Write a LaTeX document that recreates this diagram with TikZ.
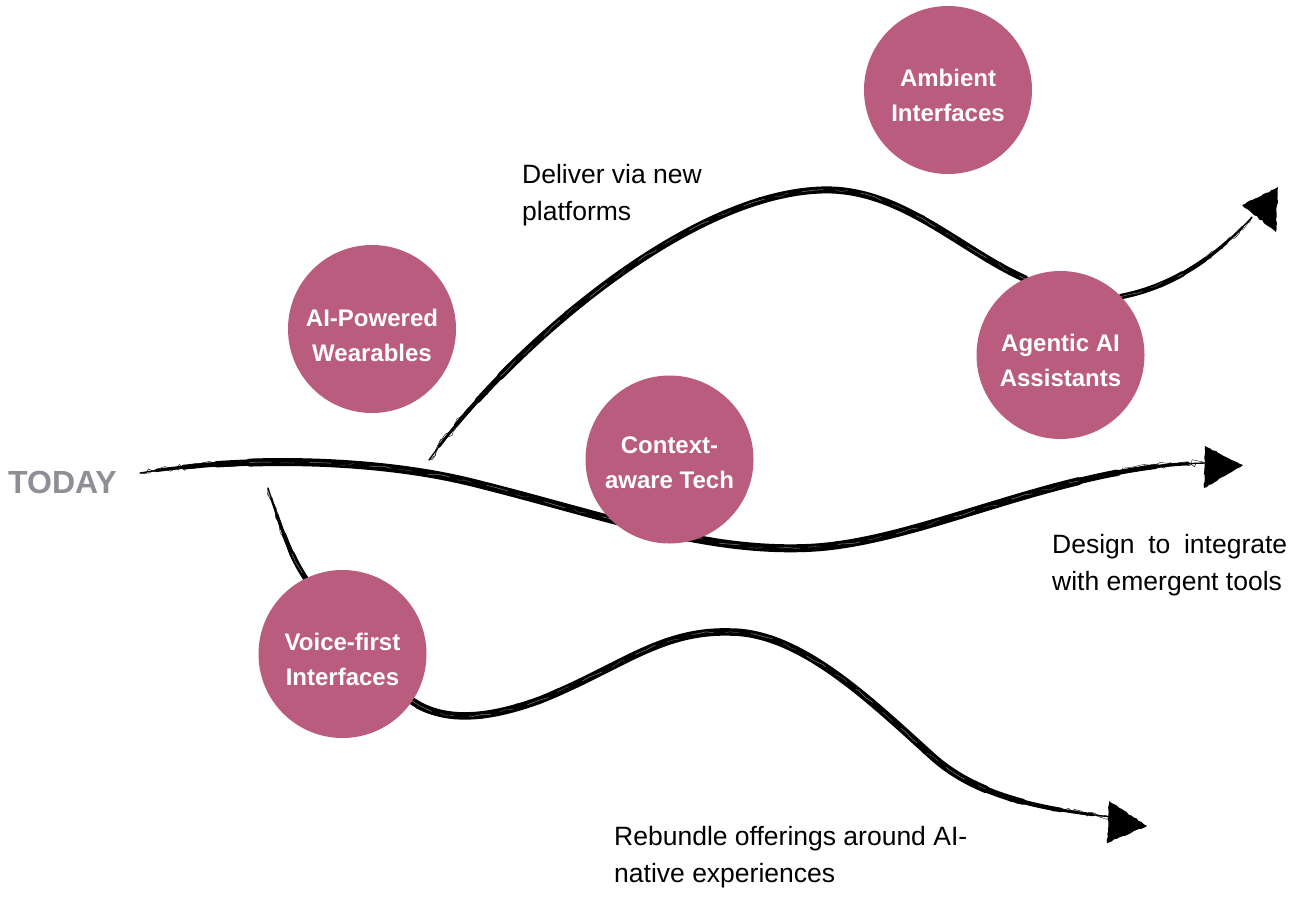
\documentclass[tikz,border=0pt]{standalone}
\usepackage{fontspec}
\setmainfont{Liberation Sans}
\usetikzlibrary{decorations.pathmorphing}
\definecolor{rose}{RGB}{185,92,126}
\definecolor{todaygray}{RGB}{142,142,150}
\pgfdeclarelayer{bg}
\pgfsetlayers{bg,main}
\tikzset{
  taper/.style n args={3}{line width=#1, line cap=round, decorate,
    decoration={curveto, pre=moveto, pre length=#2, post=moveto, post length=#3}}
}
% #1 core width, #2 start taper, #3 end taper, #4 path
\newcommand{\brushstroke}[4]{%
  \draw[line width=1.3pt, line cap=round] #4;
  \draw[taper={0.4*#1}{0.15*#2}{0.15*#3}] #4;
  \draw[taper={0.6*#1}{0.4*#2}{0.4*#3}] #4;
  \draw[taper={0.8*#1}{0.7*#2}{0.7*#3}] #4;
  \draw[taper={#1}{#2}{#3}] #4;
  \draw[line width=0.45pt, decorate, decoration={random steps, segment length=5pt, amplitude=0.42*#1}] #4;
  \draw[line width=0.35pt, decorate, decoration={random steps, segment length=8pt, amplitude=0.52*#1}] #4;
  \draw[white, line width=0.5pt, opacity=0.5, dash pattern=on 22pt off 38pt, decorate, decoration={random steps, segment length=9pt, amplitude=0.12*#1, pre=moveto, pre length=#2, post=moveto, post length=#3}] #4;
  \draw[white, line width=0.35pt, opacity=0.4, dash pattern=on 14pt off 47pt, dash phase=30pt, decorate, decoration={random steps, segment length=7pt, amplitude=0.2*#1, pre=moveto, pre length=#2, post=moveto, post length=#3}] #4;
}
\begin{document}
\begin{tikzpicture}[x=1pt,y=-1pt,
  circ/.style={circle, fill=rose, minimum size=168pt, inner sep=0pt},
  ctext/.style={text=white, font=\bfseries\fontsize{24}{35}\selectfont, align=center, inner sep=0pt},
  lbl/.style={font=\fontsize{26.5}{37}\selectfont, align=left, inner sep=0pt, anchor=base west},
  tip/.style={fill=black, decorate, decoration={random steps, segment length=3pt, amplitude=0.7pt}}
]
\useasboundingbox (0,0) rectangle (1295,897);

% circles
\node[circ] (ambient) at (948,90) {};
\node[circ] (wearables) at (372,329) {};
\node[circ] (agentic) at (1060.5,355) {};
\node[circ] (context) at (669.5,459.5) {};
\node[circ] (voice) at (342.5,654) {};

\node[ctext] (tambient) at ([yshift=-5pt]ambient.center) {Ambient\\Interfaces};
\node[ctext] (twearables) at ([yshift=-6pt]wearables.center) {AI-Powered\\Wearables};
\node[ctext] (tagentic) at ([yshift=-5pt]agentic.center) {Agentic AI\\Assistants};
\node[ctext] (tcontext) at ([yshift=-3pt]context.center) {Context-\\aware Tech};
\node[ctext] (tvoice) at ([yshift=-5pt]voice.center) {Voice-first\\Interfaces};

% coordinates
\coordinate (m0) at (140,473);
\coordinate (m1) at (470,482);
\coordinate (m2) at (806,548);
\coordinate (m3) at (1207,463);
\coordinate (u0) at (429,460);
\coordinate (u1) at (821,190);
\coordinate (ur) at (1252,217);
\coordinate (v0) at (268,488);
\coordinate (l1) at (540,700);
\coordinate (l2) at (730,632);
\coordinate (l3) at (933,757);
\coordinate (l4) at (1112,817);

\begin{pgfonlayer}{bg}
\fill[white] (0,0) rectangle (1295,897);
\brushstroke{8pt}{110pt}{130pt}{(m0) .. controls (250,455) and (380,460) .. (m1) .. controls (600,514) and (700,552) .. (m2) .. controls (920,544) and (1060,465) .. (m3)}
\brushstroke{7pt}{110pt}{0pt}{(u0) .. controls (500,360) and (680,195) .. (u1) .. controls (900,187) and (960,250) .. (agentic.115)}
\brushstroke{5.5pt}{0pt}{90pt}{(agentic.44) .. controls (1180,285) and (1222,250) .. (ur)}
\brushstroke{5.5pt}{70pt}{0pt}{(v0) .. controls (280,525) and (290,555) .. (voice.116)}
\brushstroke{7.5pt}{0pt}{130pt}{(voice.-34) .. controls (440,720) and (480,722) .. (l1) .. controls (620,668) and (660,630) .. (l2) .. controls (800,632) and (870,700) .. (l3) .. controls (980,799) and (1050,810) .. (l4)}
\end{pgfonlayer}

% arrowheads
\fill[tip] (1205,446) -- (1243,465) -- (1204,488) -- cycle;
\fill[tip] (1242,205) -- (1278,187) -- (1276,232) -- cycle;
\fill[tip] (1109,801) -- (1147,826) -- (1107,843) -- cycle;

% labels
\node[anchor=base west, inner sep=0pt, font=\bfseries\fontsize{32}{38}\selectfont, text=todaygray] (today) at (8,493) {TODAY};
\node[lbl] (deliver) at (522,220.3) {Deliver via new\\platforms};
\node[lbl] (design) at (1052,590) {\makebox[235pt][s]{Design to integrate}\\with emergent tools};
\node[lbl] (rebundle) at (614,882) {Rebundle offerings around AI-\\native experiences};
\end{tikzpicture}
\end{document}
